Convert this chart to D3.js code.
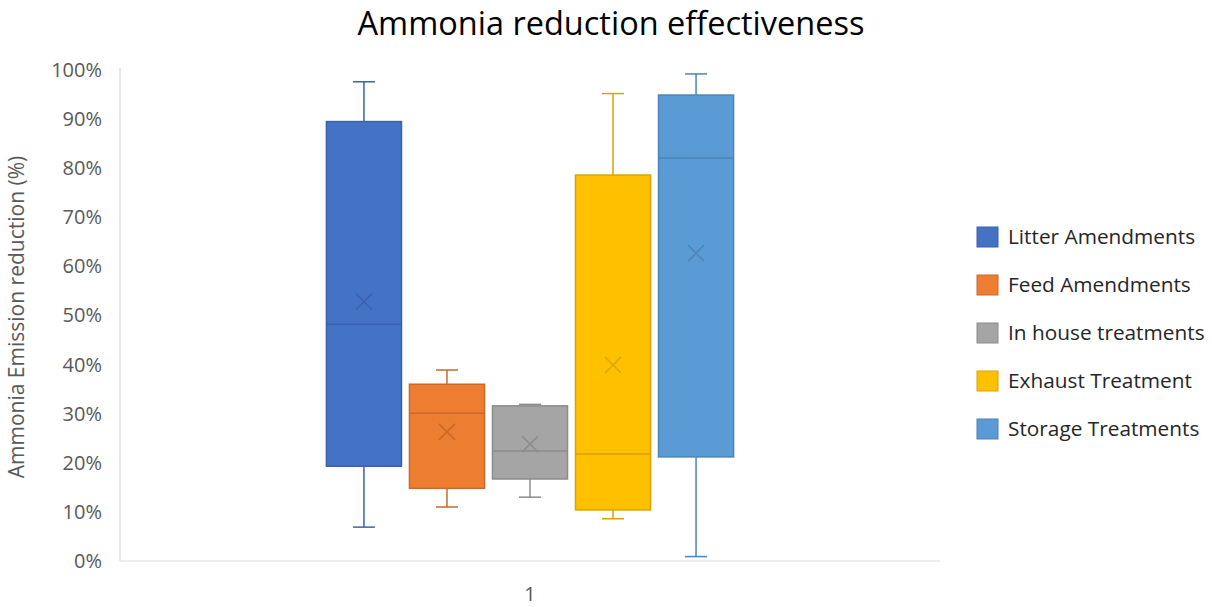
<!DOCTYPE html>
<html><head><meta charset="utf-8">
<script src="https://cdn.jsdelivr.net/npm/d3@7"></script>
<style>body{margin:0;background:#fff}svg{display:block}</style>
</head><body>
<svg id="c" width="1212" height="607"></svg>
<script>
const categories = ["1"];
const seriesNames = ["Litter Amendments","Feed Amendments","In house treatments","Exhaust Treatment","Storage Treatments"];
const minValues    = [6.9, 11.0, 13.0, 8.6, 0.9];
const q1Values     = [19.3, 14.8, 16.7, 10.4, 21.2];
const medianValues = [48.2, 30.1, 22.4, 21.8, 82.1];
const q3Values     = [89.5, 36.0, 31.6, 78.6, 94.9];
const maxValues    = [97.6, 38.9, 31.9, 95.2, 99.2];
const meanValues   = [52.8, 26.3, 23.8, 39.9, 62.7];
const yTicks = [0,10,20,30,40,50,60,70,80,90,100];
const fillColors   = ["#4472C4","#ED7D31","#A5A5A5","#FFC000","#5B9BD5"];
const strokeColors = ["#3A62AA","#C9692A","#8C8C8C","#D9A300","#4D84B5"];

(function(){
const svg = d3.select("#c");
const font = "'Open Sans', Lato, sans-serif";
const pLeft = 120, pRight = 940, pTop = 70, pBottom = 561;

const y = d3.scaleLinear().domain([0,100]).range([pBottom, pTop]);
const x0 = d3.scaleBand().domain(categories).range([pLeft, pRight]).paddingInner(0).paddingOuter(0.507);
const x1 = d3.scaleBand().domain(seriesNames).range([0, x0.bandwidth()]).paddingInner(0.096).paddingOuter(0);

svg.append("text").attr("x", 611).attr("y", 35).attr("text-anchor","middle")
  .style("font-family", font).style("font-size","32.5px").attr("fill","#000")
  .text("Ammonia reduction effectiveness");

svg.append("line").attr("x1",pLeft).attr("x2",pLeft).attr("y1",pTop-2).attr("y2",pBottom).attr("stroke","#D9D9D9").attr("stroke-width",1.2);
svg.append("line").attr("x1",pLeft).attr("x2",pRight).attr("y1",pBottom).attr("y2",pBottom).attr("stroke","#D9D9D9").attr("stroke-width",1.2);

const yAxis = svg.append("g").attr("transform",`translate(${pLeft},0)`)
  .call(d3.axisLeft(y).tickValues(yTicks).tickSize(0).tickPadding(18).tickFormat(d => d + "%"));
yAxis.select(".domain").remove();
yAxis.selectAll("text").style("font-family", font).style("font-size","20px").attr("fill","#595959");

const xAxis = svg.append("g").attr("transform",`translate(0,${pBottom})`)
  .call(d3.axisBottom(x0).tickSize(0).tickPadding(26));
xAxis.select(".domain").remove();
xAxis.selectAll("text").style("font-family", font).style("font-size","20px").attr("fill","#595959");

svg.append("text").attr("transform",`translate(24,317) rotate(-90)`)
  .attr("text-anchor","middle").style("font-family", font).style("font-size","21px").attr("fill","#595959")
  .text("Ammonia Emission reduction (%)");

const g = svg.append("g").attr("transform",`translate(${x0("1")},0)`);
seriesNames.forEach((s,i) => {
  const bx = x1(s), bw = x1.bandwidth(), cx = bx + bw/2;
  const sc = strokeColors[i];
  const capW = 22;
  g.append("line").attr("x1",cx).attr("x2",cx).attr("y1",y(maxValues[i])).attr("y2",y(q3Values[i])).attr("stroke",sc).attr("stroke-width",1.5);
  g.append("line").attr("x1",cx).attr("x2",cx).attr("y1",y(q1Values[i])).attr("y2",y(minValues[i])).attr("stroke",sc).attr("stroke-width",1.5);
  g.append("line").attr("x1",cx-capW/2).attr("x2",cx+capW/2).attr("y1",y(maxValues[i])).attr("y2",y(maxValues[i])).attr("stroke",sc).attr("stroke-width",1.5);
  g.append("line").attr("x1",cx-capW/2).attr("x2",cx+capW/2).attr("y1",y(minValues[i])).attr("y2",y(minValues[i])).attr("stroke",sc).attr("stroke-width",1.5);
  g.append("rect").attr("x",bx).attr("width",bw).attr("y",y(q3Values[i])).attr("height",y(q1Values[i])-y(q3Values[i]))
    .attr("fill",fillColors[i]).attr("stroke",sc).attr("stroke-width",1.5);
  g.append("line").attr("x1",bx).attr("x2",bx+bw).attr("y1",y(medianValues[i])).attr("y2",y(medianValues[i])).attr("stroke",sc).attr("stroke-width",1.5);
  const my = y(meanValues[i]), r = 8;
  g.append("path").attr("d",`M${cx-r},${my-r}L${cx+r},${my+r}M${cx-r},${my+r}L${cx+r},${my-r}`)
    .attr("stroke",sc).attr("stroke-width",1.5).attr("fill","none");
});

const lg = svg.append("g");
seriesNames.forEach((s,i) => {
  const ly = 237 + i*48;
  lg.append("rect").attr("x",977).attr("y",ly-10).attr("width",21).attr("height",20)
    .attr("fill",fillColors[i]).attr("stroke",strokeColors[i]).attr("stroke-width",1);
  lg.append("text").attr("x",1008).attr("y",ly).attr("dy","0.35em")
    .style("font-family", font).style("font-size","20.8px").attr("fill","#262626").text(s);
});
})();
</script>
</body></html>
